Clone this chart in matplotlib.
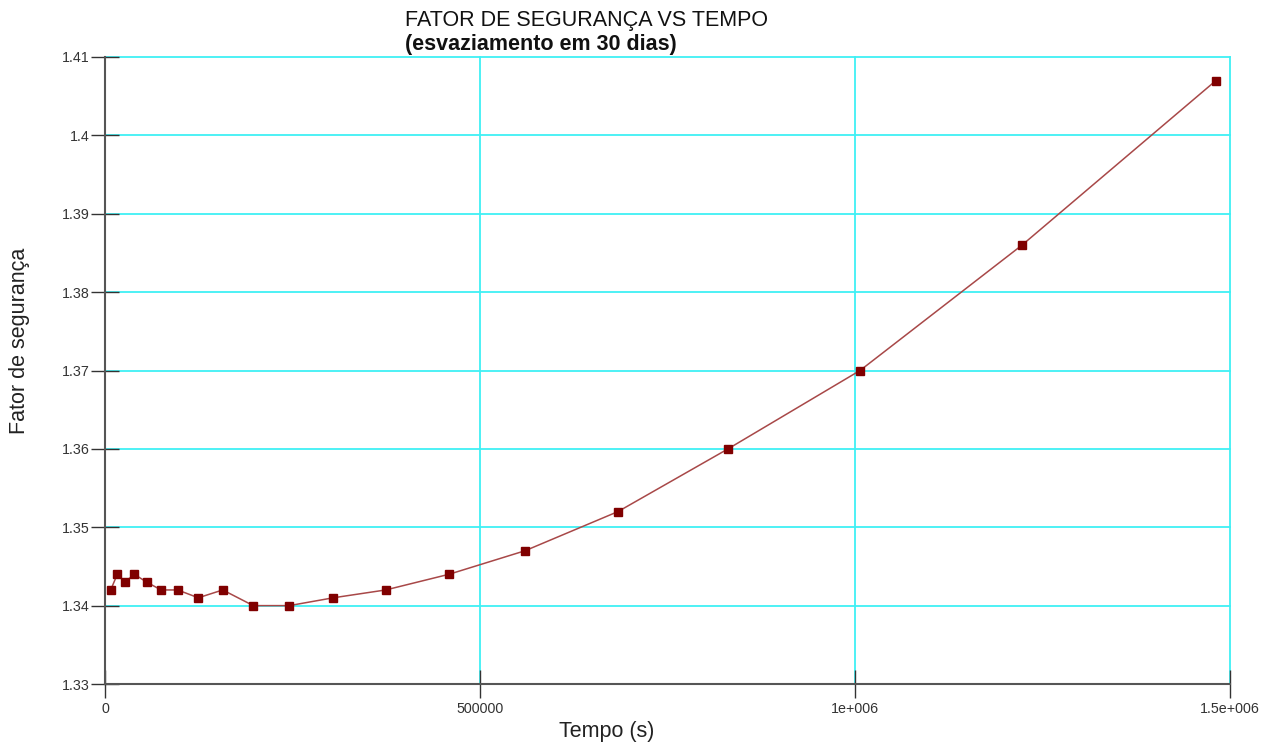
import matplotlib
matplotlib.use("Agg")
import matplotlib.pyplot as plt

# Time (s) and safety factor over a 30-day drawdown
tempo = [7600, 16400, 26700, 39000, 55600, 74700, 96900, 124400, 157000,
         197700, 245700, 304400, 374300, 458700, 560000, 684000, 830700,
         1006700, 1222700, 1481300]
fator = [1.342, 1.344, 1.343, 1.344, 1.343, 1.342, 1.342, 1.341, 1.342,
         1.340, 1.340, 1.341, 1.342, 1.344, 1.347, 1.352, 1.360,
         1.370, 1.386, 1.407]

x_ticks = [0, 500000, 1000000, 1500000]
x_labels = ["0", "500000", "1e+006", "1.5e+006"]
y_ticks = [1.33, 1.34, 1.35, 1.36, 1.37, 1.38, 1.39, 1.40, 1.41]
y_labels = ["1.33", "1.34", "1.35", "1.36", "1.37", "1.38", "1.39", "1.4", "1.41"]

plt.rcParams["font.family"] = ["Liberation Sans", "DejaVu Sans"]

W, H = 1280, 747
fig = plt.figure(figsize=(W / 100, H / 100), dpi=100)
ax = fig.add_axes([105 / W, 1 - 684 / H, 1125 / W, 627 / H])

ax.set_xlim(0, 1500000)
ax.set_ylim(1.33, 1.41)

ax.set_xticks(x_ticks)
ax.set_xticklabels(x_labels)
ax.set_yticks(y_ticks)
ax.set_yticklabels(y_labels)

ax.grid(True, color="#3ff0f5", linewidth=1.3, zorder=0)
ax.set_axisbelow(True)
for gl in ax.get_xgridlines() + ax.get_ygridlines():
    gl.set_clip_on(False)

ax.plot(tempo, fator, color="#a84848", linewidth=1.1, zorder=3)
ax.plot(tempo, fator, linestyle="none", marker="s", markersize=5.5,
        color="#800000", zorder=4)

for side in ("top", "right"):
    ax.spines[side].set_visible(False)
for side in ("left", "bottom"):
    ax.spines[side].set_color("#555555")
    ax.spines[side].set_linewidth(1.5)
    ax.spines[side].set_zorder(2)

ax.tick_params(axis="both", direction="inout", length=19.5, width=1.0,
               color="#333333", labelsize=10.3, labelcolor="#333333")
ax.tick_params(axis="y", pad=1)
ax.tick_params(axis="x", pad=3)

# Axis titles
fig.text(607 / W, 1 - 731 / H, "Tempo (s)", fontsize=15.5, color="#222222",
         ha="center", va="center")
fig.text(20 / W, 1 - 341 / H, "Fator de segurança", fontsize=15.5,
         color="#222222", ha="center", va="center", rotation=90)

# Two-line chart title
fig.text(405 / W, 1 - 26 / H, "FATOR DE SEGURANÇA VS TEMPO",
         fontsize=15.5, ha="left", va="baseline", color="#111111")
fig.text(405 / W, 1 - 50 / H, "(esvaziamento em 30 dias)",
         fontsize=15.5, fontweight="bold", ha="left", va="baseline", color="#111111")

fig.savefig("out.png", dpi=100, facecolor="white")
